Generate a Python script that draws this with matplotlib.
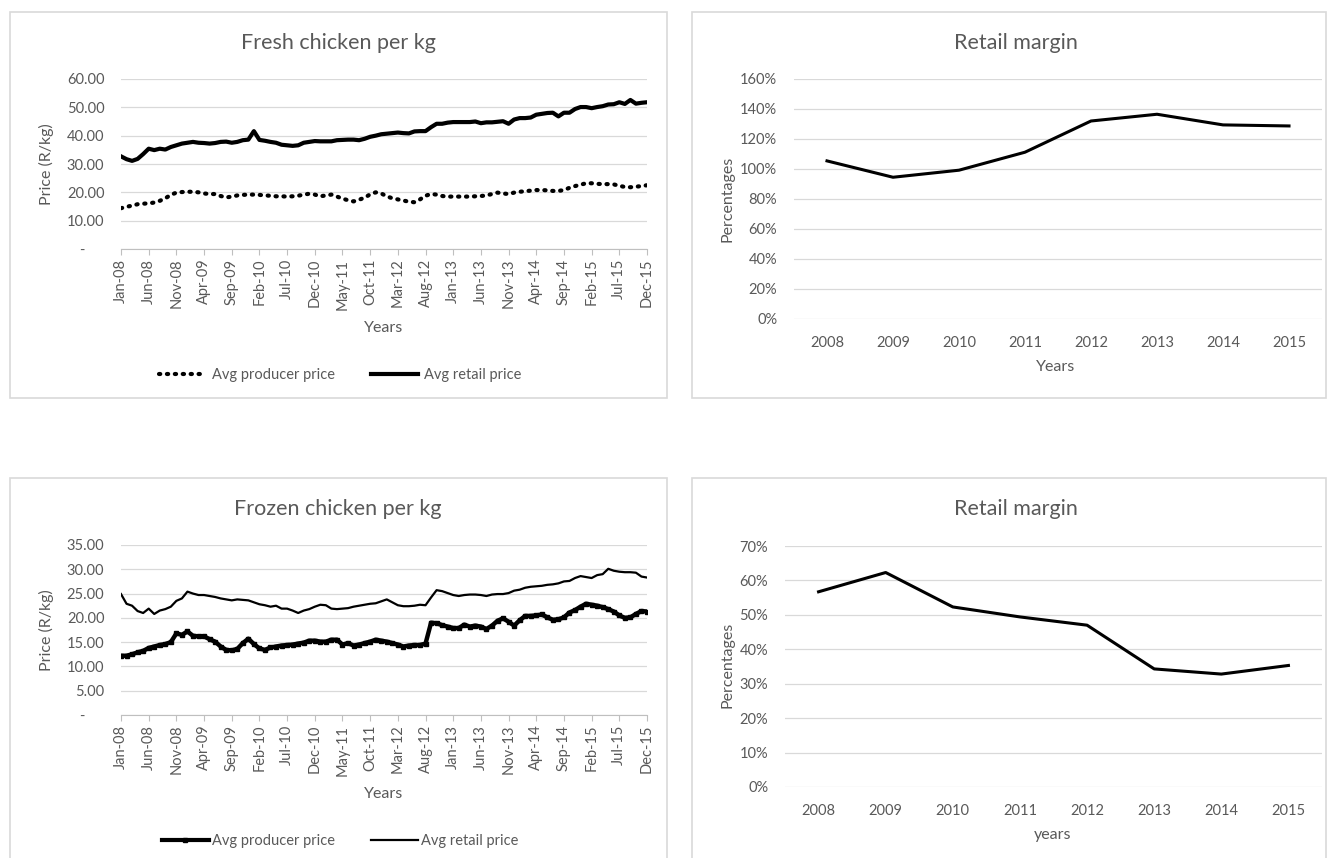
import numpy as np
import pandas as pd
import matplotlib
matplotlib.use('Agg')
import matplotlib.pyplot as plt
from matplotlib.patches import Rectangle
from matplotlib.lines import Line2D
from matplotlib.ticker import FuncFormatter, MultipleLocator

plt.rcParams['font.family'] = ['Lato', 'DejaVu Sans']

# monthly prices Jan-08 .. Dec-15 (R/kg)
fresh_producer = [14.4, 14.9, 15.3, 15.8, 16.0, 16.1, 16.4, 17.0, 17.9, 19.1,
                  19.9, 20.1, 20.2, 20.2, 20.0, 19.6, 19.4, 19.4, 18.7, 18.2,
                  18.5, 18.9, 19.1, 19.2, 19.2, 19.1, 18.9, 18.8, 18.6, 18.6,
                  18.5, 18.6, 18.8, 19.2, 19.5, 19.2, 18.6, 18.9, 19.2, 18.5,
                  17.8, 17.2, 16.8, 17.4, 18.1, 19.3, 20.0, 19.6, 18.6, 17.9,
                  17.5, 17.1, 16.7, 16.5, 17.5, 18.8, 19.4, 19.2, 18.7, 18.5,
                  18.5, 18.5, 18.5, 18.5, 18.6, 18.7, 18.9, 19.4, 19.9, 19.6,
                  19.4, 19.9, 20.2, 20.4, 20.6, 20.8, 20.8, 20.7, 20.5, 20.5,
                  20.8, 21.6, 22.2, 22.7, 23.2, 23.2, 23.0, 22.9, 22.9, 22.8,
                  22.3, 21.9, 21.8, 22.0, 22.2, 22.5]
fresh_retail = [32.7, 31.7, 31.1, 31.8, 33.5, 35.4, 34.9, 35.4, 35.1, 36.0,
                36.6, 37.2, 37.5, 37.8, 37.5, 37.4, 37.2, 37.4, 37.8, 37.9,
                37.5, 37.8, 38.4, 38.6, 41.6, 38.5, 38.2, 37.8, 37.5, 36.8,
                36.6, 36.4, 36.6, 37.5, 37.8, 38.1, 38.0, 38.0, 38.0, 38.4,
                38.5, 38.6, 38.6, 38.4, 38.9, 39.6, 40.0, 40.5, 40.7, 40.9,
                41.1, 40.9, 40.8, 41.5, 41.6, 41.6, 43.0, 44.2, 44.2, 44.6,
                44.8, 44.8, 44.8, 44.8, 45.0, 44.4, 44.7, 44.7, 44.9, 45.1,
                44.2, 45.7, 46.2, 46.2, 46.4, 47.4, 47.7, 48.0, 48.1, 46.8,
                48.1, 48.1, 49.4, 50.1, 50.1, 49.7, 50.1, 50.4, 51.0, 51.1,
                51.8, 51.2, 52.6, 51.3, 51.6, 51.8]
frozen_producer = [12.2, 12.2, 12.5, 12.9, 13.2, 13.8, 14.1, 14.4, 14.6, 15.0,
                   16.8, 16.5, 17.2, 16.3, 16.2, 16.2, 15.6, 15.1, 14.1, 13.4,
                   13.3, 13.6, 14.8, 15.7, 14.6, 13.7, 13.4, 13.9, 14.1, 14.3,
                   14.4, 14.5, 14.7, 14.9, 15.3, 15.3, 15.1, 15.1, 15.5, 15.5,
                   14.5, 14.8, 14.3, 14.5, 14.8, 15.1, 15.5, 15.3, 15.1, 14.8,
                   14.5, 14.1, 14.3, 14.4, 14.4, 14.7, 19.0, 18.9, 18.5, 18.2,
                   17.9, 17.9, 18.6, 18.2, 18.4, 18.2, 17.7, 18.4, 19.4, 19.9,
                   19.2, 18.4, 19.5, 20.4, 20.4, 20.5, 20.7, 20.1, 19.6, 19.7,
                   20.1, 21.1, 21.6, 22.3, 22.9, 22.7, 22.5, 22.2, 21.8, 21.3,
                   20.5, 20.0, 20.1, 20.8, 21.4, 21.3]
frozen_retail = [24.9, 22.9, 22.5, 21.4, 21.0, 21.9, 20.8, 21.5, 21.8, 22.3,
                 23.5, 24.0, 25.4, 25.0, 24.7, 24.7, 24.5, 24.3, 24.0, 23.8,
                 23.6, 23.8, 23.7, 23.6, 23.2, 22.8, 22.6, 22.3, 22.5, 21.9,
                 21.9, 21.5, 21.0, 21.5, 21.8, 22.3, 22.7, 22.6, 21.9, 21.8,
                 21.9, 22.0, 22.3, 22.5, 22.7, 22.9, 23.0, 23.4, 23.8, 23.2,
                 22.6, 22.4, 22.4, 22.5, 22.7, 22.6, 24.2, 25.7, 25.5, 25.1,
                 24.7, 24.5, 24.7, 24.8, 24.8, 24.7, 24.5, 24.8, 24.9, 24.9,
                 25.1, 25.6, 25.8, 26.2, 26.4, 26.5, 26.6, 26.8, 26.9, 27.1,
                 27.5, 27.6, 28.2, 28.6, 28.4, 28.2, 28.8, 29.0, 30.1, 29.7,
                 29.5, 29.4, 29.4, 29.3, 28.5, 28.3]

years = ['2008', '2009', '2010', '2011', '2012', '2013', '2014', '2015']
fresh_margin = [1.054, 0.945, 0.992, 1.112, 1.32, 1.365, 1.294, 1.287]
frozen_margin = [0.567, 0.623, 0.523, 0.494, 0.470, 0.343, 0.328, 0.353]

months = pd.date_range('2008-01-01', periods=96, freq='MS').strftime('%b-%y').tolist()

W, H = 1327, 858
GREY = '#595959'
GRID = '#d9d9d9'

fig = plt.figure(figsize=(W / 100, H / 100), dpi=100)


def box(x0, y0, x1, y1):
    # axes rect from pixel coords (top-left origin)
    return [x0 / W, 1 - y1 / H, (x1 - x0) / W, (y1 - y0) / H]


def ftext(x, y, s, **kw):
    fig.text(x / W, 1 - y / H, s, ha='center', va='center', color=GREY, **kw)


# chart area borders
for (x0, y0, x1, y1) in [(10, 12, 667, 398), (692, 12, 1326, 398),
                         (10, 478, 667, 870), (692, 478, 1326, 870)]:
    fig.add_artist(Rectangle((x0 / W, 1 - y1 / H), (x1 - x0) / W, (y1 - y0) / H,
                             transform=fig.transFigure, fill=False, ec=GRID, lw=1.2))


def price_axes(rect, ymax, step):
    ax = fig.add_axes(rect)
    ax.set_xlim(0, 95)
    ax.set_ylim(0, ymax)
    ax.yaxis.set_major_locator(MultipleLocator(step))
    ax.yaxis.set_major_formatter(FuncFormatter(lambda v, p: '-     ' if v == 0 else '%.2f' % v))
    ax.set_xticks(range(0, 96, 5))
    ax.set_xticklabels(months[::5], rotation=90)
    ax.grid(axis='y', color=GRID, lw=0.9)
    ax.set_axisbelow(True)
    for s in ['top', 'right', 'left']:
        ax.spines[s].set_visible(False)
    ax.spines['bottom'].set_color('#bfbfbf')
    ax.tick_params(axis='x', length=4, color='#bfbfbf', labelsize=10.5, labelcolor=GREY, pad=3)
    ax.tick_params(axis='y', length=0, labelsize=10.5, labelcolor=GREY, pad=12)
    return ax


def margin_axes(rect, ymax, step):
    ax = fig.add_axes(rect)
    ax.set_xlim(-0.5, 7.5)
    ax.set_ylim(0, ymax)
    ax.yaxis.set_major_locator(MultipleLocator(step))
    ax.yaxis.set_major_formatter(FuncFormatter(lambda v, p: '%d%%' % round(v * 100)))
    ax.set_xticks(range(len(years)))
    ax.set_xticklabels(years)
    ax.grid(axis='y', color=GRID, lw=0.9)
    ax.set_axisbelow(True)
    for s in ax.spines.values():
        s.set_visible(False)
    ax.tick_params(axis='x', length=0, labelsize=10.5, labelcolor=GREY, pad=12)
    ax.tick_params(axis='y', length=0, labelsize=10.5, labelcolor=GREY, pad=12)
    return ax


x = np.arange(len(months))

# fresh chicken
ax1 = price_axes(box(121, 79, 647, 249), 60, 10)
ax1.plot(x, fresh_producer, color='black', lw=3, ls=(0, (0.3, 1.6)), dash_capstyle='round')
ax1.plot(x, fresh_retail, color='black', lw=3)
ftext(338, 43, 'Fresh chicken per kg', fontsize=15.5)
ftext(384, 328, 'Years', fontsize=11.5)
ftext(46, 164, 'Price (R/kg)', fontsize=11.5, rotation=90)
h1 = [Line2D([], [], color='black', lw=3, ls=(0, (0.3, 1.6)), dash_capstyle='round'),
      Line2D([], [], color='black', lw=3)]
fig.legend(h1, ['Avg producer price', 'Avg retail price'], loc='center',
           bbox_to_anchor=(340 / W, 1 - 375 / H), ncol=2, frameon=False,
           fontsize=10.5, labelcolor=GREY, handlelength=3.2, columnspacing=2.5, handletextpad=0.4)

# fresh margin
ax2 = margin_axes(box(794, 79, 1322, 319), 1.6, 0.2)
ax2.plot(range(len(years)), fresh_margin, color='black', lw=2.2)
ftext(1016, 43, 'Retail margin', fontsize=15.5)
ftext(1056, 367, 'Years', fontsize=11.5)
ftext(727, 199, 'Percentages', fontsize=11.5, rotation=90)

# frozen chicken
ax3 = price_axes(box(121, 545, 647, 715), 35, 5)
ax3.plot(x, frozen_producer, color='black', lw=3.2, marker='s', ms=3.5)
ax3.plot(x, frozen_retail, color='black', lw=1.6)
ftext(338, 509, 'Frozen chicken per kg', fontsize=15.5)
ftext(384, 794, 'Years', fontsize=11.5)
ftext(46, 630, 'Price (R/kg)', fontsize=11.5, rotation=90)
h3 = [Line2D([], [], color='black', lw=3, marker='s', ms=3.5, markevery=[1]),
      Line2D([], [], color='black', lw=1.6)]
fig.legend(h3, ['Avg producer price', 'Avg retail price'], loc='center',
           bbox_to_anchor=(340 / W, 1 - 841 / H), ncol=2, frameon=False,
           fontsize=10.5, labelcolor=GREY, handlelength=3.2, columnspacing=2.5, handletextpad=0.2)

# frozen margin
ax4 = margin_axes(box(785, 546, 1322, 787), 0.7, 0.1)
ax4.plot(range(len(years)), frozen_margin, color='black', lw=2.2)
ftext(1016, 509, 'Retail margin', fontsize=15.5)
ftext(1053, 835, 'years', fontsize=11.5)
ftext(727, 665, 'Percentages', fontsize=11.5, rotation=90)

fig.savefig('out.png', dpi=100, facecolor='white')
